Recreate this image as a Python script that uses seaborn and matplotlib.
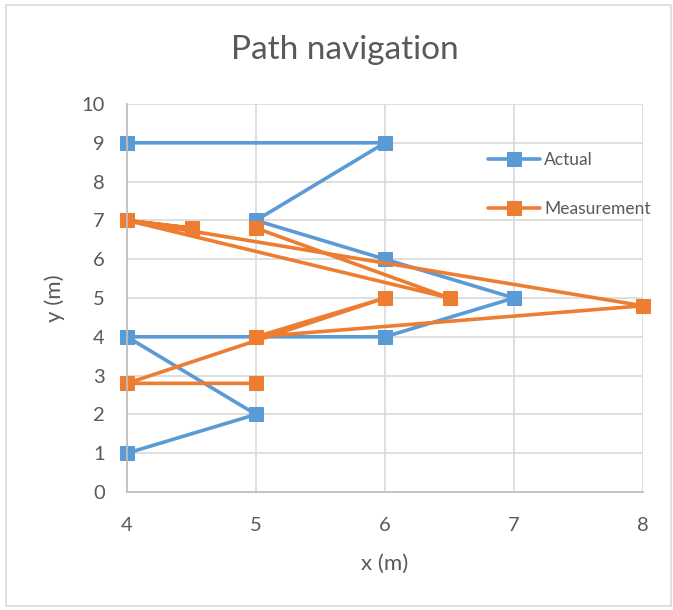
import pandas as pd
import matplotlib
matplotlib.use("Agg")
import matplotlib.pyplot as plt
import seaborn as sns
from matplotlib.patches import Rectangle

# Data
actual_x = [4, 5, 4, 6, 7, 6, 5, 6, 4]
actual_y = [1, 2, 4, 4, 5, 6, 7, 9, 9]
meas_x = [5, 4, 6, 5, 8, 4, 4.5, 4, 6.5, 5]
meas_y = [2.8, 2.8, 5, 4, 4.8, 7, 6.8, 7, 5, 6.8]
x_ticks = [4, 5, 6, 7, 8]
y_ticks = list(range(0, 11))

actual_df = pd.DataFrame({'x': actual_x, 'y': actual_y})
meas_df = pd.DataFrame({'x': meas_x, 'y': meas_y})

sns.set_theme(style="whitegrid")
plt.rcParams['font.family'] = ['Lato', 'DejaVu Sans']

BLUE = '#5b9bd5'
ORANGE = '#ed7d31'
TXT = '#595959'
GRID = '#d9d9d9'

fig = plt.figure(figsize=(6.73, 6.10), dpi=100)
ax = fig.add_axes([127 / 673, 1 - 492 / 610, (643 - 127) / 673, (492 - 104) / 610])

line_kw = dict(marker='s', markersize=10, linewidth=2.6, sort=False,
               estimator=None, clip_on=False)
sns.lineplot(data=actual_df, x='x', y='y', color=BLUE, markeredgecolor=BLUE,
             label='Actual', ax=ax, **line_kw)
sns.lineplot(data=meas_df, x='x', y='y', color=ORANGE, markeredgecolor=ORANGE,
             label='Measurement', ax=ax, **line_kw)

ax.set_xlim(4, 8)
ax.set_ylim(0, 10)
ax.set_xticks(x_ticks)
ax.set_yticks(y_ticks)
ax.grid(True, color=GRID, linewidth=1.2)
ax.set_axisbelow(True)
for s in ['top', 'right']:
    ax.spines[s].set_visible(False)
for s in ['left', 'bottom']:
    ax.spines[s].set_color('#bfbfbf')
    ax.spines[s].set_linewidth(1.3)
ax.tick_params(axis='both', length=0, labelsize=14.5, colors=TXT)
ax.tick_params(axis='x', pad=18)
ax.tick_params(axis='y', pad=16)
for lab in ax.get_xticklabels() + ax.get_yticklabels():
    lab.set_color(TXT)

ax.set_xlabel('x (m)', fontsize=16, color=TXT, labelpad=14)
ax.set_ylabel('y (m)', fontsize=16, color=TXT, labelpad=12)

fig.text(0.513, 1 - 50 / 610, 'Path navigation', ha='center', va='center',
         fontsize=24, color=TXT)

leg = ax.legend(loc='upper left', bbox_to_anchor=(488 / 673, 1 - 152 / 610),
                bbox_transform=fig.transFigure, frameon=False, fontsize=12.5,
                handlelength=3.0, handletextpad=0.25, labelspacing=1.9,
                borderpad=0, borderaxespad=0)
for t in leg.get_texts():
    t.set_color(TXT)

# light chart-area border
fig.patches.append(Rectangle((6 / 673, 4 / 610), 665 / 673, 601 / 610,
                             transform=fig.transFigure, fill=False,
                             edgecolor=GRID, linewidth=1.2))

fig.savefig('out.png', dpi=100)
